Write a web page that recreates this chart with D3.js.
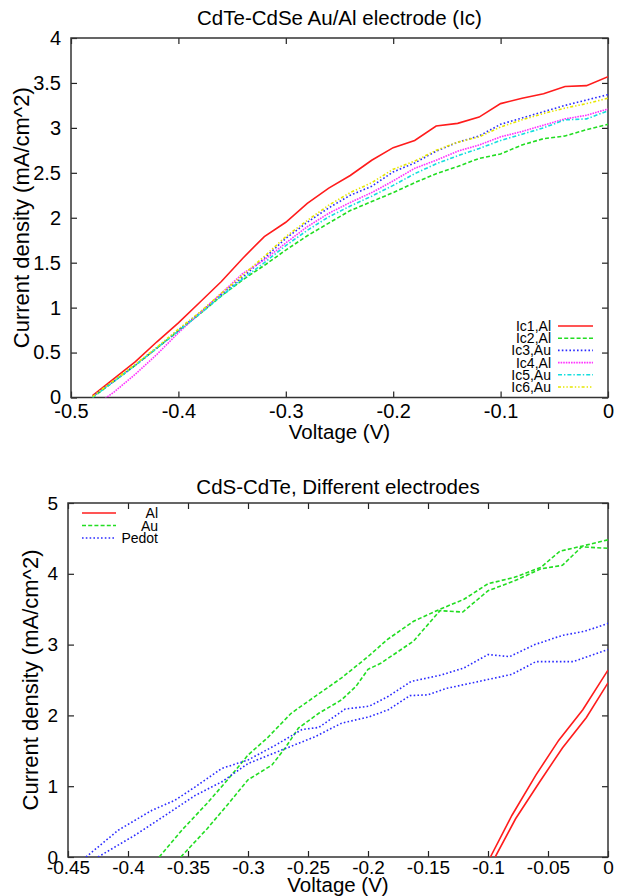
<!DOCTYPE html>
<html>
<head>
<meta charset="utf-8">
<script src="https://cdn.jsdelivr.net/npm/d3@7"></script>
<style>
    body { margin: 0; background: #fff; }
    text { font-family: "Liberation Sans", Arial, Helvetica, sans-serif; fill: #000; }
</style>
</head>
<body>
<svg id="main" width="618" height="896"></svg>
<script>
const width = 618;
const height = 896;

// ---- top chart: CdTe-CdSe, Ic samples ----
const topVoltage = [-0.48, -0.46, -0.44, -0.42, -0.40, -0.38, -0.36, -0.34, -0.32, -0.30, -0.28, -0.26, -0.24,
    -0.22, -0.20, -0.18, -0.16, -0.14, -0.12, -0.10, -0.08, -0.06, -0.04, -0.02, 0];
const ic1Al = [0.02, 0.21, 0.40, 0.62, 0.83, 1.06, 1.29, 1.55, 1.79, 1.95, 2.16, 2.33, 2.47,
    2.64, 2.78, 2.86, 3.02, 3.05, 3.12, 3.27, 3.33, 3.38, 3.46, 3.47, 3.57];
const ic2Al = [0.00, 0.18, 0.36, 0.55, 0.74, 0.93, 1.13, 1.31, 1.47, 1.64, 1.80, 1.94, 2.08,
    2.18, 2.28, 2.39, 2.49, 2.57, 2.66, 2.71, 2.81, 2.88, 2.91, 2.98, 3.04];
const ic3Au = [0.01, 0.18, 0.36, 0.55, 0.75, 0.94, 1.15, 1.34, 1.55, 1.77, 1.95, 2.11, 2.25,
    2.35, 2.51, 2.61, 2.74, 2.84, 2.91, 3.04, 3.11, 3.18, 3.25, 3.31, 3.37];
const ic4Al = [-0.11, 0.06, 0.26, 0.48, 0.72, 0.94, 1.16, 1.38, 1.53, 1.72, 1.90, 2.05, 2.17,
    2.28, 2.41, 2.55, 2.64, 2.74, 2.81, 2.90, 2.96, 3.03, 3.10, 3.14, 3.21];
const ic5Au = [0.00, 0.18, 0.36, 0.55, 0.74, 0.93, 1.13, 1.32, 1.50, 1.69, 1.86, 2.01, 2.13,
    2.24, 2.36, 2.49, 2.60, 2.69, 2.77, 2.86, 2.93, 3.00, 3.09, 3.10, 3.19];
const ic6Au = [0.01, 0.19, 0.37, 0.56, 0.76, 0.95, 1.16, 1.36, 1.57, 1.79, 1.97, 2.14, 2.28,
    2.39, 2.54, 2.63, 2.75, 2.84, 2.90, 3.01, 3.09, 3.16, 3.22, 3.27, 3.33];
const topNames = ['Ic1,Al', 'Ic2,Al', 'Ic3,Au', 'Ic4,Al', 'Ic5,Au', 'Ic6,Au'];
const topXTicks = [-0.5, -0.4, -0.3, -0.2, -0.1, 0];
const topYTicks = [0, 0.5, 1, 1.5, 2, 2.5, 3, 3.5, 4];

// ---- bottom chart: CdS-CdTe, electrodes ----
const alVoltageA = [-0.098, -0.080, -0.060, -0.041, -0.021, 0];
const alCurrentA = [0, 0.59, 1.16, 1.65, 2.08, 2.64];
const alVoltageB = [-0.094, -0.077, -0.057, -0.038, -0.018, 0];
const alCurrentB = [0, 0.54, 1.06, 1.54, 1.97, 2.46];
const auVoltageA = [-0.374, -0.354, -0.334, -0.316, -0.300, -0.284, -0.264, -0.244, -0.222, -0.200,
    -0.184, -0.162, -0.140, -0.120, -0.100, -0.078, -0.056, -0.040, -0.022, 0];
const auCurrentA = [0, 0.40, 0.76, 1.11, 1.44, 1.68, 2.03, 2.27, 2.53, 2.83,
    3.07, 3.33, 3.50, 3.64, 3.86, 3.95, 4.09, 4.32, 4.39, 4.48];
const auVoltageB = [-0.356, -0.334, -0.316, -0.300, -0.280, -0.269, -0.258, -0.241, -0.222, -0.210,
    -0.200, -0.189, -0.162, -0.140, -0.121, -0.100, -0.078, -0.056, -0.038, -0.022, 0];
const auCurrentB = [0, 0.40, 0.76, 1.09, 1.30, 1.54, 1.82, 2.03, 2.22, 2.41,
    2.65, 2.74, 3.05, 3.48, 3.46, 3.76, 3.90, 4.07, 4.12, 4.38, 4.36];
const pedotVoltageA = [-0.435, -0.408, -0.380, -0.361, -0.344, -0.322, -0.300, -0.277, -0.255, -0.241, -0.219,
    -0.199, -0.183, -0.164, -0.139, -0.120, -0.100, -0.082, -0.061, -0.038, -0.019, 0];
const pedotCurrentA = [0, 0.38, 0.66, 0.80, 0.99, 1.25, 1.37, 1.58, 1.80, 1.83, 2.09,
    2.13, 2.27, 2.48, 2.57, 2.67, 2.86, 2.83, 3.00, 3.13, 3.19, 3.30];
const pedotVoltageB = [-0.425, -0.394, -0.367, -0.344, -0.322, -0.300, -0.272, -0.244, -0.222, -0.199,
    -0.183, -0.165, -0.150, -0.135, -0.113, -0.080, -0.060, -0.029, 0];
const pedotCurrentB = [0, 0.31, 0.61, 0.87, 1.06, 1.32, 1.51, 1.70, 1.89, 1.98,
    2.08, 2.28, 2.29, 2.38, 2.46, 2.58, 2.76, 2.76, 2.93];
const bottomNames = ['Al', 'Au', 'Pedot'];
const bottomXTicks = [-0.45, -0.4, -0.35, -0.3, -0.25, -0.2, -0.15, -0.1, -0.05, 0];
const bottomYTicks = [0, 1, 2, 3, 4, 5];

// gnuplot-like line types
const lineTypes = [
    { color: '#ff1c1c', dash: null },
    { color: '#22dd22', dash: '4,2.2' },
    { color: '#2b2bff', dash: '1.6,2.2' },
    { color: '#ff33ff', dash: '1.6,1' },
    { color: '#15dede', dash: '4,2,1.4,2' },
    { color: '#e6e600', dash: '3,2,1.4,2,1.4,2' }
];

const svg = d3.select('#main');

function drawPanel(opt) {
    const { box } = opt;
    const x = d3.scaleLinear().domain(opt.xDomain).range([box.left, box.right]);
    const y = d3.scaleLinear().domain(opt.yDomain).range([box.bottom, box.top]);
    const g = svg.append('g');

    g.append('clipPath')
        .attr('id', opt.id + '-clip')
        .append('rect')
        .attr('x', box.left)
        .attr('y', box.top)
        .attr('width', box.right - box.left)
        .attr('height', box.bottom - box.top);

    // inward ticks on all four sides
    const fmt = d => (d === 0 ? '0' : String(d));
    g.append('g')
        .attr('transform', `translate(0, ${box.bottom})`)
        .call(d3.axisBottom(x).tickValues(opt.xTicks).tickSizeInner(-6).tickSizeOuter(0).tickPadding(opt.xPad).tickFormat(fmt))
        .call(a => a.select('.domain').remove());
    g.append('g')
        .attr('transform', `translate(0, ${box.top})`)
        .call(d3.axisTop(x).tickValues(opt.xTicks).tickSizeInner(-6).tickSizeOuter(0).tickFormat(''))
        .call(a => a.select('.domain').remove());
    g.append('g')
        .attr('transform', `translate(${box.left}, 0)`)
        .call(d3.axisLeft(y).tickValues(opt.yTicks).tickSizeInner(-6).tickSizeOuter(0).tickPadding(opt.yPad).tickFormat(fmt))
        .call(a => a.select('.domain').remove());
    g.append('g')
        .attr('transform', `translate(${box.right}, 0)`)
        .call(d3.axisRight(y).tickValues(opt.yTicks).tickSizeInner(-6).tickSizeOuter(0).tickFormat(''))
        .call(a => a.select('.domain').remove());

    g.selectAll('.tick line').attr('stroke', '#222').attr('stroke-width', 1.2);
    g.selectAll('.tick text')
        .attr('font-size', opt.tickFont)
        .attr('font-family', '"Liberation Sans", Arial, sans-serif')
        .attr('fill', '#000');

    g.append('rect')
        .attr('x', box.left)
        .attr('y', box.top)
        .attr('width', box.right - box.left)
        .attr('height', box.bottom - box.top)
        .attr('fill', 'none')
        .attr('stroke', '#333')
        .attr('stroke-width', 1.5);

    // curves
    const line = d3.line().x(d => x(d[0])).y(d => y(d[1]));
    g.append('g')
        .attr('clip-path', `url(#${opt.id}-clip)`)
        .selectAll('path')
        .data(opt.series)
        .join('path')
        .attr('d', s => line(s.voltage.map((v, i) => [v, s.current[i]])))
        .attr('fill', 'none')
        .attr('stroke', s => lineTypes[s.type].color)
        .attr('stroke-width', 1.6)
        .attr('stroke-dasharray', s => lineTypes[s.type].dash);

    // legend
    const leg = g.append('g')
        .selectAll('g')
        .data(opt.legend.names)
        .join('g')
        .attr('transform', (d, i) => `translate(0, ${opt.legend.y + i * opt.legend.step})`);
    leg.append('text')
        .attr('x', opt.legend.textX)
        .attr('y', 5)
        .attr('text-anchor', 'end')
        .attr('font-size', opt.legend.font)
        .text(d => d);
    leg.append('line')
        .attr('x1', opt.legend.x1)
        .attr('x2', opt.legend.x2)
        .attr('stroke', (d, i) => lineTypes[i].color)
        .attr('stroke-width', 1.6)
        .attr('stroke-dasharray', (d, i) => lineTypes[i].dash);

    // titles
    g.append('text')
        .attr('x', (box.left + box.right) / 2)
        .attr('y', opt.titleY)
        .attr('text-anchor', 'middle')
        .attr('font-size', 20.5)
        .text(opt.title);
    g.append('text')
        .attr('x', (box.left + box.right) / 2)
        .attr('y', opt.xLabelY)
        .attr('text-anchor', 'middle')
        .attr('font-size', 20.5)
        .text('Voltage (V)');
    g.append('text')
        .attr('transform', `translate(${opt.yLabelX}, ${(box.top + box.bottom) / 2}) rotate(-90)`)
        .attr('text-anchor', 'middle')
        .attr('font-size', 22)
        .text('Current density (mA/cm^2)');
}

const topCurrents = [ic1Al, ic2Al, ic3Au, ic4Al, ic5Au, ic6Au];
drawPanel({
    id: 'top',
    box: { left: 71, right: 608, top: 38, bottom: 397.5 },
    xDomain: [-0.5, 0],
    yDomain: [0, 4],
    xTicks: topXTicks,
    yTicks: topYTicks,
    tickFont: 20,
    xPad: 6,
    yPad: 10,
    title: 'CdTe-CdSe Au/Al electrode (Ic)',
    titleY: 25,
    xLabelY: 439,
    yLabelX: 29,
    series: topCurrents.map((c, i) => ({ voltage: topVoltage, current: c, type: i })),
    legend: { names: topNames, y: 326, step: 12.2, textX: 551, x1: 558, x2: 593, font: 14 }
});

drawPanel({
    id: 'bottom',
    box: { left: 68, right: 608, top: 503, bottom: 857 },
    xDomain: [-0.45, 0],
    yDomain: [0, 5],
    xTicks: bottomXTicks,
    yTicks: bottomYTicks,
    tickFont: 19,
    xPad: 4,
    yPad: 10,
    title: 'CdS-CdTe, Different electrodes',
    titleY: 494,
    xLabelY: 892,
    yLabelX: 38,
    series: [
        { voltage: alVoltageA, current: alCurrentA, type: 0 },
        { voltage: alVoltageB, current: alCurrentB, type: 0 },
        { voltage: auVoltageA, current: auCurrentA, type: 1 },
        { voltage: auVoltageB, current: auCurrentB, type: 1 },
        { voltage: pedotVoltageA, current: pedotCurrentA, type: 2 },
        { voltage: pedotVoltageB, current: pedotCurrentB, type: 2 }
    ],
    legend: { names: bottomNames, y: 513, step: 12.5, textX: 158, x1: 82, x2: 116, font: 14 }
});
</script>
</body>
</html>
